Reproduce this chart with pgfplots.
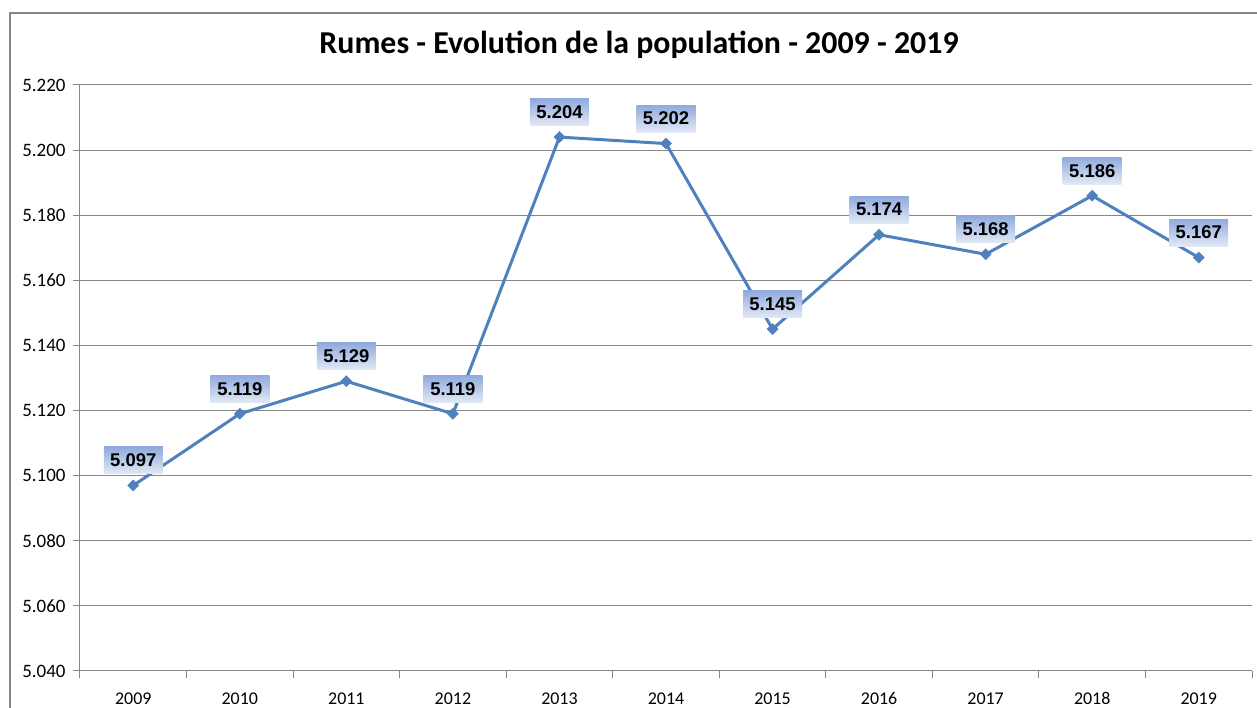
\documentclass[border=0pt]{standalone}
\usepackage{pgfplots}
\pgfplotsset{compat=1.18}
\usepackage{fontspec}
\setmainfont{Carlito}
\newfontfamily\arialf{Liberation Sans}
\definecolor{linecol}{HTML}{4F81BD}
\definecolor{axcol}{HTML}{868686}
\definecolor{gridcol}{HTML}{868686}
\definecolor{labtop}{HTML}{8FAADC}
\definecolor{labbot}{HTML}{E2E9F5}
\pgfplotstableread{
x year pop
0 2009 5097
1 2010 5119
2 2011 5129
3 2012 5119
4 2013 5204
5 2014 5202
6 2015 5145
7 2016 5174
8 2017 5168
9 2018 5186
10 2019 5167
}\datatable
\begin{document}
\begin{tikzpicture}[x=1bp,y=1bp]
\begin{axis}[
  at={(0,0)}, anchor=south west,
  scale only axis, width=1172bp, height=586bp,
  xmin=-0.5, xmax=10.5, ymin=5040, ymax=5220,
  ytick={5040,5060,...,5220},
  xtick={0,...,10},
  xticklabels={2009,2010,2011,2012,2013,2014,2015,2016,2017,2018,2019},
  minor xtick={-0.5,0.5,...,10.5},
  axis x line*=bottom, axis y line*=left,
  axis line style={axcol, line width=1bp},
  every outer x axis line/.append style={-}, every outer y axis line/.append style={-},
  ymajorgrids, grid style={gridcol, line width=1bp},
  major x tick style={draw=none},
  minor x tick style={axcol, line width=1bp},
  major y tick style={axcol, line width=1bp},
  tick align=outside, major tick length=7bp, minor tick length=7bp,
  yticklabel style={font=\fontsize{19}{22}\selectfont, xshift=-4bp},
  xticklabel style={font=\fontsize{18}{22}\selectfont, yshift=-11bp},
  /pgf/number format/assume math mode=true,
  /pgf/number format/.cd, fixed, 1000 sep={.}, precision=0,
  /pgfplots/.cd,
  clip=false,
  nodes near coords,
  every node near coord/.append style={
    font=\arialf\bfseries\fontsize{18.5}{20}\selectfont, text=black,
    top color=labtop, bottom color=labbot, draw=none,
    minimum width=59bp, minimum height=27bp, inner sep=0pt,
    anchor=center, yshift=25bp},
]
\addplot[linecol, line width=3bp, mark=square*, mark size=3.9bp,
  mark options={fill=linecol, draw=linecol, line width=0.5bp, rotate=45}]
  table[x=x, y=pop] {\datatable};
\end{axis}
\draw[axcol, line width=1.2bp] (-70,-50) -- (-70,658) -- (1190,658);
\node[font=\fontsize{32}{36}\selectfont\bfseries] at (559,626) {Rumes - Evolution de la population - 2009 - 2019};
\pgfresetboundingbox
\path[use as bounding box] (-80,-37) rectangle (1177,671);
\end{tikzpicture}
\end{document}
